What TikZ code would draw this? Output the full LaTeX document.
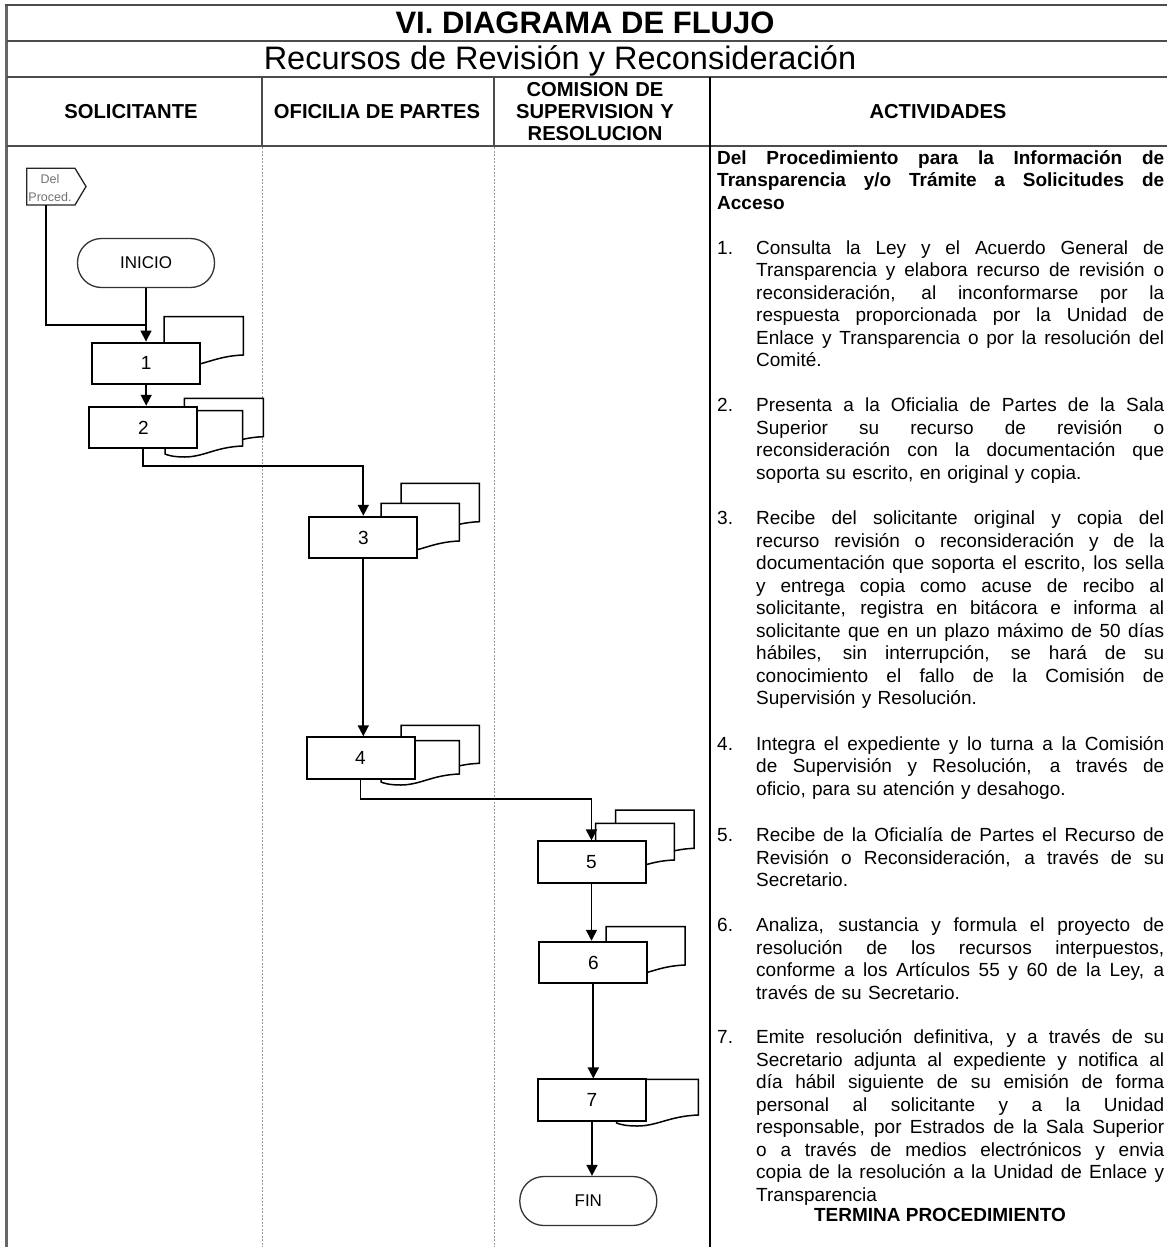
\documentclass[tikz,border=0pt]{standalone}
\usepackage{fontspec}
\setmainfont{Liberation Sans}
\usetikzlibrary{arrows.meta,calc}

% one justified line of the activity text (default width: item text column)
\newcommand{\jl}[2][408pt]{\leavevmode\hbox to #1{\spaceskip=\fontdimen2\font plus 1fil\xspaceskip=\spaceskip\relax #2}}
% document symbol: left, top, right, bottom (at the right edge), wavy bottom
\newcommand{\docshape}[4]{%
  \filldraw[docline] (#1,#2) -- (#3,#2) -- (#3,#4)
    .. controls ({#3-0.35*(#3-#1)},{#4+1}) and ({#3-0.5*(#3-#1)},{#4+11}) .. ({#3-0.75*(#3-#1)},{#4+11})
    .. controls ({#3-0.9*(#3-#1)},{#4+11}) and ({#1+0.03*(#3-#1)},{#4+9}) .. ({#1},{#4+8}) -- cycle;}

\begin{document}
\begin{tikzpicture}[x=1pt,y=-1pt,
  frame/.style={draw=black!70, line width=2.2pt},
  lane/.style={draw=black!40, line width=1pt, dash pattern=on 2pt off 1.5pt},
  proc/.style={draw=black, line width=2pt, fill=white, minimum width=108pt,
    minimum height=41.5pt, inner sep=0pt, font=\fontsize{19}{22}\selectfont},
  term/.style={draw=black!80, line width=1.3pt, fill=white, rounded corners=24pt,
    minimum width=137pt, minimum height=49pt, inner sep=0pt, font=\fontsize{17}{20}\selectfont},
  docline/.style={draw=black, line width=1.5pt, fill=white},
  flow/.style={draw=black, line width=1.7pt},
  arr/.style={flow, -{Triangle[width=11pt,length=11pt]}},
  hdr/.style={inner sep=0pt, anchor=base, font=\bfseries\fontsize{20.2}{22}\selectfont},
  act/.style={anchor=base west, inner sep=0pt, text width=408pt, align=left,
    font=\fontsize{19}{22.5}\selectfont},
  num/.style={anchor=base west, inner sep=0pt, font=\fontsize{19}{22.5}\selectfont}
]
\useasboundingbox (0,0) rectangle (1167,1247);
\fill[white] (0,0) rectangle (1167,1247);

% table frame and header rows
\draw[frame, line width=3pt, draw=black!60] (6.7,1247) -- (6.7,5);
\draw[frame] (5.2,5) -- (1167,5);
\draw[frame] (6.7,40.7) -- (1167,40.7);
\draw[frame] (6.7,76.7) -- (1167,76.7);
\draw[frame] (6.7,146) -- (1167,146);
\draw[frame] (262,76.7) -- (262,146);
\draw[frame] (494,76.7) -- (494,146);
\draw[draw=black, line width=2pt] (709.5,76.7) -- (709.5,1247);
\draw[lane] (262,147) -- (262,1247);
\draw[lane] (494,147) -- (494,1247);

\node[inner sep=0pt, anchor=base, font=\bfseries\fontsize{31}{34}\selectfont] (title) at (585,34) {VI. DIAGRAMA DE FLUJO};
\node[inner sep=0pt, anchor=base, font=\fontsize{32.5}{36}\selectfont] (subtitle) at (560,70) {Recursos de Revisión y Reconsideración};

\node[hdr] (h1) at (131,118.5) {SOLICITANTE};
\node[hdr] (h2) at (377,118.5) {OFICILIA DE PARTES};
\node[hdr, text width=210pt, align=center] (h3) at (595,96) {COMISION DE\\SUPERVISION Y\\RESOLUCION};
\node[hdr] (h4) at (938,118.5) {ACTIVIDADES};

% off-page connector
\filldraw[draw=black!85, line width=1.3pt, fill=white] (26.7,168.3) -- (75,168.3) -- (86,186.5) -- (75,205) -- (26.7,205) -- cycle;
\node[inner sep=0pt, align=center, text=black!55, font=\fontsize{12.5}{18}\selectfont] (dp) at (50,188) {Del\\Proced.};
\coordinate (dpo) at (46,205);

% documents behind the activity boxes
\docshape{164}{316.7}{243.3}{355}
\docshape{184.3}{398.3}{263.3}{436.7}
\docshape{165}{410.7}{242.7}{446}
\docshape{401}{483.3}{479.3}{521.7}
\docshape{381}{503.3}{459.3}{541}
\docshape{401}{725.3}{479.3}{763.3}
\docshape{381}{740.7}{459.3}{774}
\docshape{615.7}{810}{694}{848.3}
\docshape{595.7}{823.3}{674.3}{860}
\docshape{606}{926.7}{685}{965}
\docshape{616.7}{1079.3}{698.3}{1115}

% flow nodes
\node[term] (ini) at (146,263) {INICIO};
\node[proc] (b1) at (146.2,363.3) {1};
\node[proc] (b2) at (143.3,427.5) {2};
\node[proc] (b3) at (363.3,537.5) {3};
\node[proc] (b4) at (360.5,758) {4};
\node[proc] (b5) at (591.5,862.2) {5};
\node[proc] (b6) at (593.3,962.5) {6};
\node[proc] (b7) at (592,1100.2) {7};
\node[term] (fin) at (588.3,1201) {FIN};

% connectors
\coordinate (j1) at (146,325);
\coordinate (k2) at (0,466);
\coordinate (k4) at (0,799.3);
\draw[flow] (dpo) |- (j1);
\draw[arr] (ini.south) -- (ini.south |- b1.north);
\draw[arr] (b1.south) -- (b1.south |- b2.north);
\draw[arr] (b2.south) -- (b2.south |- k2) -| (b3.north);
\draw[arr] (b3.south) -- (b3.south |- b4.north);
\draw[arr] (b4.south) -- (b4.south |- k4) -| (b5.north);
\draw[arr] (b5.south) -- (b5.south |- b6.north);
\draw[arr] (b6.south) -- (b6.south |- b7.north);
\draw[arr] (b7.south) -- (b7.south |- fin.north);

% activity descriptions
\node[act, text width=447pt, font=\bfseries\fontsize{19}{22.5}\selectfont] (t0) at (717,164) {%
\jl[447pt]{Del Procedimiento para la Información de}\\
\jl[447pt]{Transparencia y/o Trámite a Solicitudes de}\\
Acceso};

\node[num] (n1) at (717,254) {1.};
\node[act] (t1) at (756,254) {%
\jl{Consulta la Ley y el Acuerdo General de}\\
\jl{Transparencia y elabora recurso de revisión o}\\
\jl{reconsideración, al inconformarse por la}\\
\jl{respuesta proporcionada por la Unidad de}\\
\jl{Enlace y Transparencia o por la resolución del}\\
Comité.};

\node[num] (n2) at (717,411.5) {2.};
\node[act] (t2) at (756,411.5) {%
\jl{Presenta a la Oficialia de Partes de la Sala}\\
\jl{Superior su recurso de revisión o}\\
\jl{reconsideración con la documentación que}\\
soporta su escrito, en original y copia.};

\node[num] (n3) at (717,524.5) {3.};
\node[act] (t3) at (756,524.5) {%
\jl{Recibe del solicitante original y copia del}\\
\jl{recurso revisión o reconsideración y de la}\\
\jl{documentación que soporta el escrito, los sella}\\
\jl{y entrega copia como acuse de recibo al}\\
\jl{solicitante, registra en bitácora e informa al}\\
\jl{solicitante que en un plazo máximo de 50 días}\\
\jl{hábiles, sin interrupción, se hará de su}\\
\jl{conocimiento el fallo de la Comisión de}\\
Supervisión y Resolución.};

\node[num] (n4) at (717,750) {4.};
\node[act] (t4) at (756,750) {%
\jl{Integra el expediente y lo turna a la Comisión}\\
\jl{de Supervisión y Resolución, a través de}\\
oficio, para su atención y desahogo.};

\node[num] (n5) at (717,841.5) {5.};
\node[act] (t5) at (756,841.5) {%
\jl{Recibe de la Oficialía de Partes el Recurso de}\\
\jl{Revisión o Reconsideración, a través de su}\\
Secretario.};

\node[num] (n6) at (717,931.5) {6.};
\node[act] (t6) at (756,931.5) {%
\jl{Analiza, sustancia y formula el proyecto de}\\
\jl{resolución de los recursos interpuestos,}\\
\jl{conforme a los Artículos 55 y 60 de la Ley, a}\\
través de su Secretario.};

\node[num] (n7) at (717,1043.5) {7.};
\node[act] (t7) at (756,1043.5) {%
\jl{Emite resolución definitiva, y a través de su}\\
\jl{Secretario adjunta al expediente y notifica al}\\
\jl{día hábil siguiente de su emisión de forma}\\
\jl{personal al solicitante y a la Unidad}\\
\jl{responsable, por Estrados de la Sala Superior}\\
\jl{o a través de medios electrónicos y envia}\\
\jl{copia de la resolución a la Unidad de Enlace y}\\
Transparencia};

\node[inner sep=0pt, anchor=base, font=\bfseries\fontsize{19}{22.5}\selectfont] (fin7) at (940,1221.5) {TERMINA PROCEDIMIENTO};
\end{tikzpicture}
\end{document}
